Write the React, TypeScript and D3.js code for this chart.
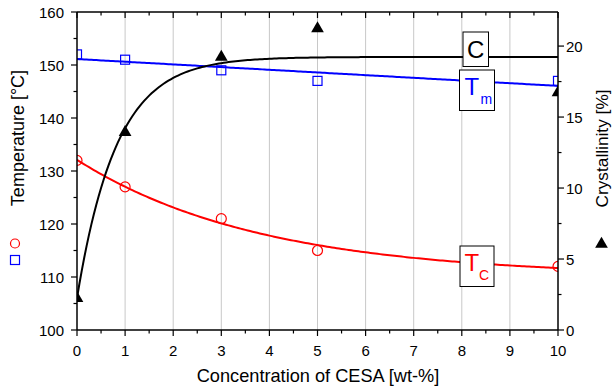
import React from "react";
import * as d3 from "d3";

// CESA concentration [wt-%]
const concentration = [0, 1, 3, 5, 10];
// Melting temperature Tm [°C]
const meltingTemp = [152, 151, 149, 147, 147];
// Crystallization temperature Tc [°C]
const crystTemp = [132, 127, 121, 115, 112];
// Crystallinity C [%]
const crystallinity = [2.3, 14, 19.3, 21.3, 16.8];

const xTicks = [0, 1, 2, 3, 4, 5, 6, 7, 8, 9, 10];
const leftTicks = [100, 110, 120, 130, 140, 150, 160];
const rightTicks = [0, 5, 10, 15, 20];

const W = 614;
const H = 392;
const M = { left: 77, right: 558, top: 12, bottom: 330 };
const FONT = "'Liberation Sans', Arial, Helvetica, sans-serif";

// least-squares straight line
function fitLine(xs: number[], ys: number[]) {
  const mx = d3.mean(xs)!;
  const my = d3.mean(ys)!;
  const sxy = d3.sum(xs, (x, i) => (x - mx) * (ys[i] - my));
  const sxx = d3.sum(xs, (x) => (x - mx) ** 2);
  const slope = sxy / sxx;
  const icpt = my - slope * mx;
  return (x: number) => icpt + slope * x;
}

// least-squares y = a + b·exp(-x/t), scanning t and solving a, b linearly
function fitExp(xs: number[], ys: number[]) {
  let best = { sse: Infinity, a: 0, b: 0, t: 1 };
  for (let t = 0.05; t <= 30; t += 0.005) {
    const e = xs.map((x) => Math.exp(-x / t));
    const me = d3.mean(e)!;
    const my = d3.mean(ys)!;
    const see = d3.sum(e, (v) => (v - me) ** 2);
    const sey = d3.sum(e, (v, i) => (v - me) * (ys[i] - my));
    const b = sey / see;
    const a = my - b * me;
    const sse = d3.sum(e, (v, i) => (a + b * v - ys[i]) ** 2);
    if (sse < best.sse) best = { sse, a, b, t };
  }
  return (x: number) => best.a + best.b * Math.exp(-x / best.t);
}

export default function App() {
  const x = d3.scaleLinear().domain([0, 10]).range([M.left, M.right]);
  const yL = d3.scaleLinear().domain([100, 160]).range([M.bottom, M.top]);
  const yR = d3.scaleLinear().domain([0, 22.4]).range([M.bottom, M.top]);

  const xs = d3.range(0, 10.0001, 0.05);
  const tmFit = fitLine(concentration, meltingTemp);
  const tcFit = fitExp(concentration, crystTemp);
  const cFit = fitExp(concentration, crystallinity);

  const lineL = (f: (v: number) => number) =>
    d3.line<number>().x((v) => x(v)).y((v) => yL(f(v)))(xs)!;
  const lineR = (f: (v: number) => number) =>
    d3.line<number>().x((v) => x(v)).y((v) => yR(f(v)))(xs)!;

  const tri = d3.symbol().type(d3.symbolTriangle).size(70)()!;

  const minorX = d3.range(0, 10.0001, 0.5);
  const minorL = d3.range(100, 160.001, 5);
  const minorR = d3.range(0, 22.4, 2.5);

  return (
    <svg
      width={W}
      height={H}
      style={{ position: "absolute", left: 0, top: 0, background: "#fff" }}
      fontFamily={FONT}
    >
      <defs>
        <clipPath id="plot">
          <rect x={M.left} y={M.top} width={M.right - M.left} height={M.bottom - M.top} />
        </clipPath>
      </defs>
      <rect width={W} height={H} fill="#fff" />

      {/* vertical grid */}
      {xTicks.slice(1, -1).map((t) => (
        <line key={t} x1={x(t)} x2={x(t)} y1={M.top} y2={M.bottom} stroke="#c8c8c8" strokeWidth={1} />
      ))}

      <g clipPath="url(#plot)">
        <path d={lineL(tmFit)} fill="none" stroke="#0000ff" strokeWidth={2} />
        <path d={lineL(tcFit)} fill="none" stroke="#ff0000" strokeWidth={2} />
        <path d={lineR(cFit)} fill="none" stroke="#000" strokeWidth={2} />

        {concentration.map((c, i) => (
          <rect
            key={"s" + i}
            x={x(c) - 4.5}
            y={yL(meltingTemp[i]) - 4.5}
            width={9}
            height={9}
            fill="none"
            stroke="#0000ff"
            strokeWidth={1.2}
          />
        ))}
        {concentration.map((c, i) => (
          <circle key={"c" + i} cx={x(c)} cy={yL(crystTemp[i])} r={5} fill="none" stroke="#ff0000" strokeWidth={1.2} />
        ))}
        {concentration.map((c, i) => (
          <path key={"t" + i} d={tri} transform={`translate(${x(c)},${yR(crystallinity[i]) + 1})`} fill="#000" />
        ))}
      </g>

      {/* axes frame */}
      <g stroke="#000" strokeWidth={1.5} fill="none">
        <line x1={M.left} x2={M.right} y1={M.bottom} y2={M.bottom} />
        <line x1={M.left} x2={M.right} y1={M.top} y2={M.top} />
        <line x1={M.left} x2={M.left} y1={M.top} y2={M.bottom} />
        <line x1={M.right} x2={M.right} y1={M.top} y2={M.bottom} />
      </g>

      {/* ticks */}
      <g stroke="#000" strokeWidth={1.2}>
        {minorX.map((t) => {
          const major = Number.isInteger(t);
          const len = major ? 6 : 3.5;
          return (
            <g key={t}>
              <line x1={x(t)} x2={x(t)} y1={M.bottom} y2={M.bottom + len} />
              <line x1={x(t)} x2={x(t)} y1={M.top} y2={M.top + len} />
            </g>
          );
        })}
        {minorL.map((t) => (
          <line key={t} x1={M.left} x2={M.left - (t % 10 === 0 ? 6 : 3.5)} y1={yL(t)} y2={yL(t)} />
        ))}
        {minorR.map((t) => (
          <line key={t} x1={M.right} x2={M.right + (t % 5 === 0 ? 6 : 3.5)} y1={yR(t)} y2={yR(t)} />
        ))}
      </g>

      {/* tick labels */}
      <g fontSize={15} fill="#000">
        {xTicks.map((t) => (
          <text key={t} x={x(t)} y={M.bottom + 26} textAnchor="middle">
            {t}
          </text>
        ))}
        {leftTicks.map((t) => (
          <text key={t} x={M.left - 13} y={yL(t) + 5.5} textAnchor="end">
            {t}
          </text>
        ))}
        {rightTicks.map((t) => (
          <text key={t} x={M.right + 8} y={yR(t) + 5.5} textAnchor="start">
            {t}
          </text>
        ))}
      </g>

      {/* axis titles */}
      <text x={318} y={382} textAnchor="middle" fontSize={18.2}>
        Concentration of CESA [wt-%]
      </text>
      <text transform="translate(23.5,138) rotate(-90)" textAnchor="middle" fontSize={18}>
        Temperature [°C]
      </text>
      <circle cx={15} cy={243.5} r={4.5} fill="none" stroke="#ff0000" strokeWidth={1.2} />
      <rect x={10.5} y={255.5} width={9} height={9} fill="none" stroke="#0000ff" strokeWidth={1.2} />
      <text transform="translate(608,148.5) rotate(-90)" textAnchor="middle" fontSize={17.3}>
        Crystallinity [%]
      </text>
      <path d={tri} transform="translate(601.5,244)" fill="#000" />

      {/* series labels */}
      <g>
        <rect x={463} y={32} width={25.5} height={34.5} fill="#fff" stroke="#000" strokeWidth={1} />
        <text x={475.7} y={57.5} textAnchor="middle" fontSize={24}>
          C
        </text>
        <rect x={459.5} y={70} width={35} height={40.5} fill="#fff" stroke="#000" strokeWidth={1} />
        <text x={464.5} y={95} fontSize={24} fill="#0000ff">
          T
        </text>
        <text x={480.5} y={103.5} fontSize={14} fill="#0000ff">
          m
        </text>
        <rect x={460} y={246} width={34} height={40.5} fill="#fff" stroke="#000" strokeWidth={1} />
        <text x={464.5} y={271} fontSize={24} fill="#ff0000">
          T
        </text>
        <text x={479} y={279.5} fontSize={14} fill="#ff0000">
          C
        </text>
      </g>
    </svg>
  );
}
